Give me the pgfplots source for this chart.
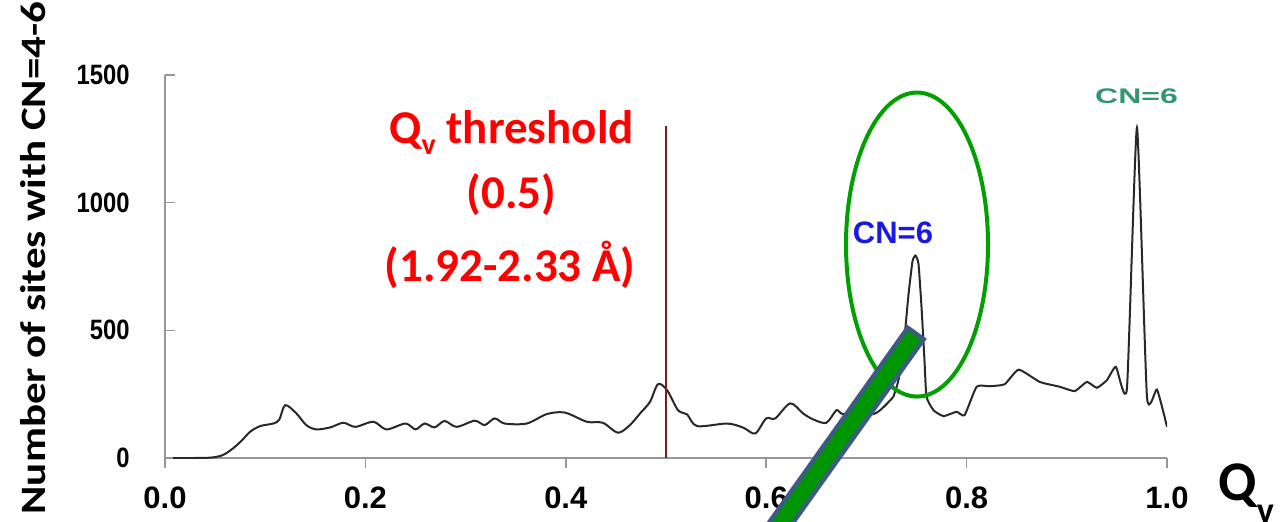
\documentclass[border=0pt]{standalone}
\usepackage{pgfplots}
\pgfplotsset{compat=1.18}
\usepackage{graphicx}
\usepackage{fontspec}
\setmainfont{Carlito}
\newfontfamily\arial{Liberation Sans}
\definecolor{thr}{RGB}{255,0,0}
\definecolor{cnblue}{RGB}{25,25,225}
\definecolor{cngreen}{RGB}{50,150,110}
\definecolor{ellg}{RGB}{0,160,0}
\definecolor{barb}{RGB}{60,90,130}
\definecolor{barg}{RGB}{0,150,0}
\definecolor{axgray}{RGB}{150,150,150}
\definecolor{vline}{RGB}{120,30,30}
\definecolor{curve}{RGB}{40,40,40}
\begin{document}
\begin{tikzpicture}
\useasboundingbox (0,0) rectangle (640pt,260.5pt);
\clip (0,0) rectangle (640pt,260.5pt);
\begin{axis}[
  at={(82.5pt,31.5pt)}, anchor=south west,
  scale only axis, width=501pt, height=191.5pt,
  xmin=0, xmax=1, ymin=0, ymax=1500,
  axis x line*=bottom, axis y line*=left,
  axis line style={axgray, line width=0.75pt, -},
  tick align=inside,
  major tick length=5pt,
  xtick={0,0.2,0.4,0.6,0.8,1},
  xticklabels={0.0,0.2,0.4,0.6,0.8,1.0},
  ytick={0,500,1000,1500},
  yticklabels={\scalebox{0.85}[1]{0},\scalebox{0.85}[1]{500},\scalebox{0.85}[1]{1000},\scalebox{0.85}[1]{1500}},
  x tick style={axgray, line width=0.75pt, yshift=-5pt},
  y tick style={axgray, line width=0.75pt},
  xticklabel style={anchor=north, inner sep=0pt, yshift=-14.35pt, font=\arial\bfseries\fontsize{15.5}{16}\selectfont},
  yticklabel style={anchor=east, inner sep=0pt, xshift=-17.5pt, font=\arial\bfseries\fontsize{14}{14}\selectfont},
]
\addplot[curve, line width=1pt, smooth] table {
x y
0.008 0
0.03 0
0.047 2
0.058 12
0.068 38
0.077 70
0.085 103
0.095 125
0.108 135
0.114 150
0.12 207
0.131 175
0.141 129
0.151 112
0.165 120
0.178 138
0.19 122
0.208 142
0.221 112
0.24 135
0.25 112
0.259 135
0.269 120
0.279 145
0.291 122
0.309 146
0.319 129
0.329 155
0.339 135
0.361 135
0.381 172
0.399 178
0.421 142
0.437 138
0.452 99
0.464 129
0.474 174
0.484 220
0.492 289
0.501 266
0.512 187
0.521 171
0.531 125
0.561 135
0.577 119
0.589 96
0.60 155
0.609 155
0.624 214
0.637 174
0.647 151
0.66 138
0.67 187
0.675 174
0.69 165
0.71 177
0.727 240
};
\addplot[curve, line width=1pt, smooth, tension=0.3] table {
x y
0.727 240
0.732 305
0.737 430
0.742 640
0.746 770
0.749 793
0.752 760
0.755 591
0.758 380
0.760 240
0.767 187
0.777 164
0.79 181
0.798 168
0.81 279
0.823 281
0.838 289
0.852 346
0.873 298
0.893 279
0.908 262
0.92 298
0.93 275
0.94 305
0.949 357
0.96 272
0.97 1294
0.98 240
0.99 268
1.0 122
};
\addplot[vline, line width=0.75pt] coordinates {(0.5,0) (0.5,1301)};
\coordinate (E) at (axis cs:0.7505,836);
\end{axis}
\draw[ellg, line width=2pt] (E) ellipse [x radius=35.5pt, y radius=76pt];
\draw[barb, line width=12pt] (458.5pt,94.65pt) -- (377.2pt,-19.5pt);
\draw[barg, line width=7.5pt, shorten <=2.25pt] (458.5pt,94.65pt) -- (377.2pt,-19.5pt);
\node[anchor=base, inner sep=0pt, text=thr, font=\fontsize{23.5}{26}\selectfont\bfseries] at (255.85pt,189pt) {Q\raisebox{-5.8pt}{\fontsize{15}{15}\selectfont v} threshold};
\node[anchor=base, inner sep=0pt, text=thr, font=\fontsize{23.5}{26}\selectfont\bfseries] at (255.75pt,156.5pt) {(0.5)};
\node[anchor=base, inner sep=0pt, text=thr, font=\fontsize{23.5}{26}\selectfont\bfseries] at (255pt,119.65pt) {(1.92-2.33 Å)};
\node[anchor=base, inner sep=0pt, text=cnblue, font=\arial\bfseries\fontsize{15.5}{16}\selectfont] at (446.5pt,138.85pt) {CN=6};
\node[anchor=base, inner sep=0pt, text=cngreen, font=\arial\bfseries\fontsize{16}{16}\selectfont] at (568.25pt,208.85pt) {\scalebox{1}[0.66]{CN=6}};
\node[anchor=base west, inner sep=0pt, font=\fontsize{28}{30}\selectfont\bfseries] at (609pt,10.5pt) {Q\raisebox{-11pt}{\fontsize{18}{18}\selectfont v}};
\node[rotate=90, anchor=base, inner sep=0pt, font=\fontsize{21.5}{22}\selectfont\bfseries] at (22.5pt,131.5pt) {\scalebox{1}[0.83]{Number of sites with CN=4-6}};
\end{tikzpicture}
\end{document}
